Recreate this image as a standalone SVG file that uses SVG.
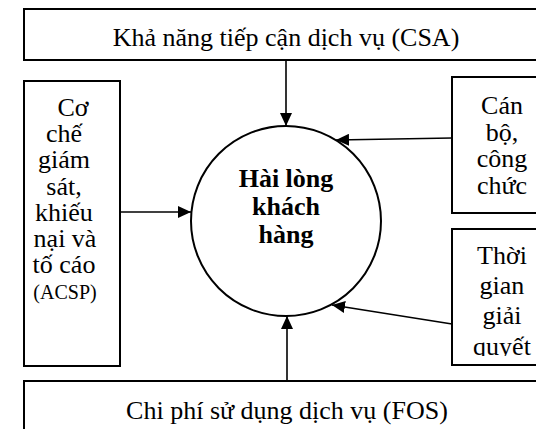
<svg xmlns="http://www.w3.org/2000/svg" width="536" height="429" viewBox="0 0 536 429">
<style>
.box{fill:#fff;stroke:#000;stroke-width:2}
.t{font-family:"Liberation Serif","Times New Roman",serif;font-size:26px;fill:#000;text-anchor:middle}
.s{font-size:20px}
.b{font-weight:bold}
.c{fill:none;stroke:#000;stroke-width:1.6}
</style>
<defs>
<marker id="ah" markerUnits="userSpaceOnUse" markerWidth="14" markerHeight="12" refX="13" refY="6" orient="auto">
<path d="M0,0 L13,6 L0,12 z" fill="#000"/>
</marker>
<clipPath id="clipT"><rect x="452" y="229" width="90" height="127"/></clipPath>
</defs>
<rect width="536" height="429" fill="#fff"/>
<g id="csa">
<rect class="box" x="24" y="9" width="530" height="51"/>
<text class="t" x="286" y="46">Khả năng tiếp cận dịch vụ (CSA)</text>
</g>
<g id="acsp">
<rect class="box" x="24" y="81" width="96" height="285"/>
<text class="t" x="73" y="116">Cơ</text>
<text class="t" x="64" y="142">chế</text>
<text class="t" x="64" y="168">giám</text>
<text class="t" x="64" y="195">sát,</text>
<text class="t" x="64" y="221">khiếu</text>
<text class="t" x="65" y="247">nại và</text>
<text class="t" x="64" y="273">tố cáo</text>
<text class="t s" x="65" y="299">(ACSP)</text>
</g>
<g id="canbo">
<rect class="box" x="452" y="77" width="100" height="136"/>
<text class="t" x="502" y="114">Cán</text>
<text class="t" x="502" y="141">bộ,</text>
<text class="t" x="502" y="167">công</text>
<text class="t" x="502" y="194">chức</text>
</g>
<g id="thoigian">
<rect class="box" x="452" y="229" width="100" height="136"/>
<g clip-path="url(#clipT)">
<text class="t" x="502" y="264">Thời</text>
<text class="t" x="502" y="294">gian</text>
<text class="t" x="502" y="324">giải</text>
<text class="t" x="502" y="355">quyết</text>
</g>
</g>
<g id="fos">
<rect class="box" x="24" y="381" width="530" height="60"/>
<text class="t" x="287" y="419">Chi phí sử dụng dịch vụ (FOS)</text>
</g>
<g id="center">
<circle cx="286" cy="221" r="95" fill="#fff" stroke="#000" stroke-width="2"/>
<text class="t b" x="286" y="187">Hài lòng</text>
<text class="t b" x="286" y="215">khách</text>
<text class="t b" x="286" y="243">hàng</text>
</g>
<g id="connectors">
<line class="c" x1="286" y1="60" x2="286" y2="126" marker-end="url(#ah)"/>
<line class="c" x1="120" y1="212" x2="191" y2="212" marker-end="url(#ah)"/>
<line class="c" x1="452" y1="138" x2="336" y2="140" marker-end="url(#ah)"/>
<line class="c" x1="452" y1="324" x2="332" y2="305" marker-end="url(#ah)"/>
<line class="c" x1="287" y1="381" x2="287" y2="316" stroke-width="3" marker-end="url(#ah)"/>
</g>
</svg>
